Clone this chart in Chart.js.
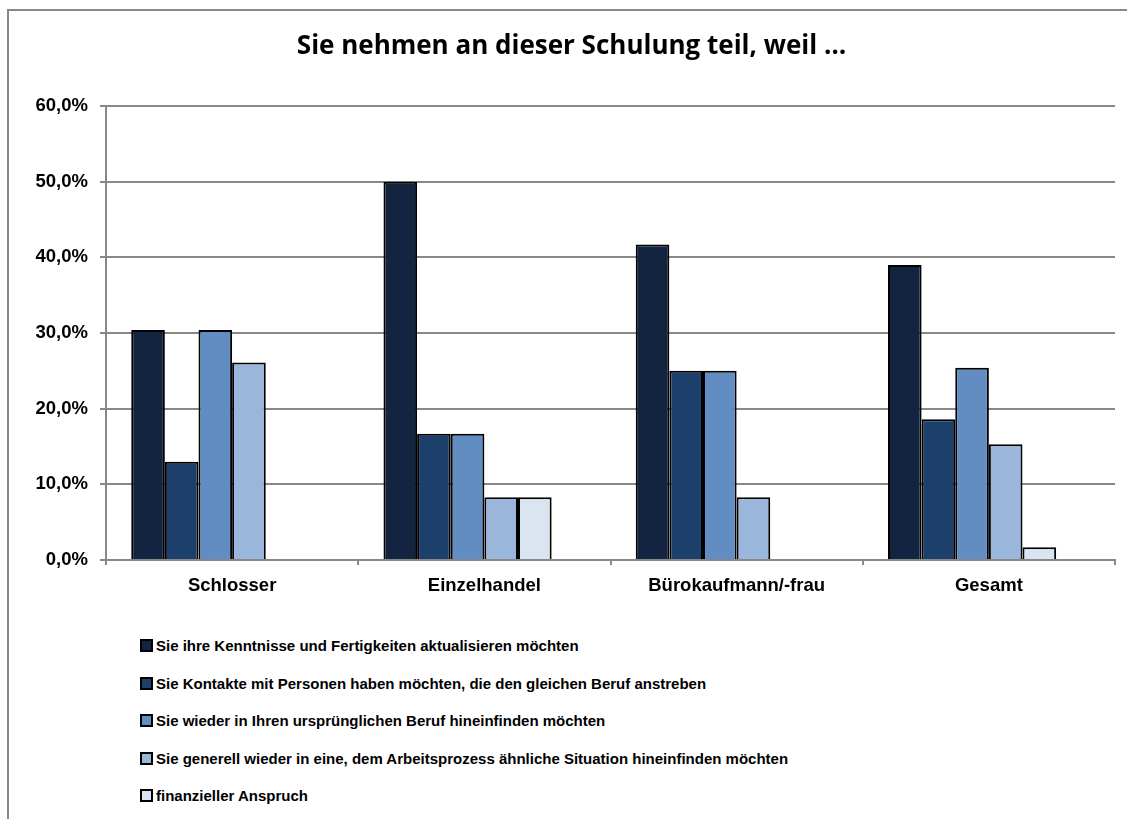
<!DOCTYPE html>
<html>
<head>
<meta charset="utf-8">
<script src="https://cdn.jsdelivr.net/npm/chart.js@4.4.1/dist/chart.umd.min.js"></script>
<style>
  body { margin: 0; background: #fff; }
  #frame { position: absolute; left: 7px; top: 9px; width: 1200px; height: 900px;
           border-top: 2px solid #888; border-left: 2px solid #888; }
  #wrap { position: absolute; left: 0; top: 0; width: 1127px; height: 620px; }
  #legend { position: absolute; left: 140px; top: 627px; font: bold 15px "Liberation Sans", Arial, sans-serif; color: #000; }
  #legend div { height: 37.5px; display: flex; align-items: center; }
  #legend span.box { display: inline-block; width: 9px; height: 9px; border: 2px solid #000; margin-right: 3px; }
</style>
</head>
<body>
<div id="frame"></div>
<div id="wrap"><canvas id="myChart"></canvas></div>
<div id="legend"></div>
<script>
const categories = ['Schlosser', 'Einzelhandel', 'Bürokaufmann/-frau', 'Gesamt'];

const seriesNames = [
    'Sie ihre Kenntnisse und Fertigkeiten aktualisieren möchten',
    'Sie Kontakte mit Personen haben möchten, die den gleichen Beruf anstreben',
    'Sie wieder in Ihren ursprünglichen Beruf hineinfinden möchten',
    'Sie generell wieder in eine, dem Arbeitsprozess ähnliche Situation hineinfinden möchten',
    'finanzieller Anspruch'
];

const kenntnisse = [30.4, 50.0, 41.7, 39.0];
const kontakte = [13.0, 16.7, 25.0, 18.6];
const beruf = [30.4, 16.7, 25.0, 25.4];
const situation = [26.1, 8.3, 8.3, 15.3];
const finanziell = [0, 8.3, 0, 1.7];

const yTicks = [0, 10, 20, 30, 40, 50, 60];

const colors = ['#12243f', '#1d3f6b', '#618dc3', '#9ab6db', '#dbe5f1'];
const allValues = [kenntnisse, kontakte, beruf, situation, finanziell];

const datasets = allValues.map((vals, i) => ({
    label: seriesNames[i],
    data: vals,
    backgroundColor: colors[i],
    borderColor: '#000',
    borderWidth: 2,
    borderSkipped: 'bottom',
    categoryPercentage: 0.8,
    barPercentage: 1.0
}));
// empty sixth slot, like the original workbook series
datasets.push({ label: '', data: [null, null, null, null], categoryPercentage: 0.8, barPercentage: 1.0 });

const ctx = document.getElementById('myChart');
const tickFont = { family: '"Liberation Sans", Arial, sans-serif', weight: 'bold', size: 18.5 };

new Chart(ctx, {
    type: 'bar',
    data: { labels: categories, datasets: datasets },
    options: {
        responsive: true,
        maintainAspectRatio: false,
        animation: false,
        layout: { padding: { top: 0, right: 12, bottom: 0, left: 28 } },
        plugins: {
            legend: { display: false },
            tooltip: { enabled: false },
            title: {
                display: true,
                text: 'Sie nehmen an dieser Schulung teil, weil …',
                color: '#000',
                font: { family: '"Open Sans", sans-serif', weight: 'bold', size: 26, lineHeight: 1.2 },
                padding: { top: 31.4, bottom: 43.4 }
            }
        },
        scales: {
            x: {
                grid: { drawOnChartArea: false, drawTicks: true, tickLength: 5, color: '#888', lineWidth: 2 },
                border: { color: '#888', width: 2 },
                ticks: { color: '#000', font: tickFont, padding: 10 },
                afterFit: s => { s.height = 60; }
            },
            y: {
                min: 0, max: 60,
                afterBuildTicks: s => { s.ticks = yTicks.map(v => ({ value: v })); },
                grid: { color: '#888', lineWidth: 2, tickLength: 6 },
                border: { color: '#888', width: 2 },
                ticks: {
                    color: '#000', font: tickFont, padding: 12,
                    callback: v => v.toFixed(1).replace('.', ',') + '%'
                },
                afterFit: s => { s.width = 78; }
            }
        }
    }
});

const legendEl = document.getElementById('legend');
seriesNames.forEach((name, i) => {
    const row = document.createElement('div');
    const box = document.createElement('span');
    box.className = 'box';
    box.style.background = colors[i];
    row.appendChild(box);
    row.appendChild(document.createTextNode(name));
    legendEl.appendChild(row);
});
</script>
</body>
</html>
